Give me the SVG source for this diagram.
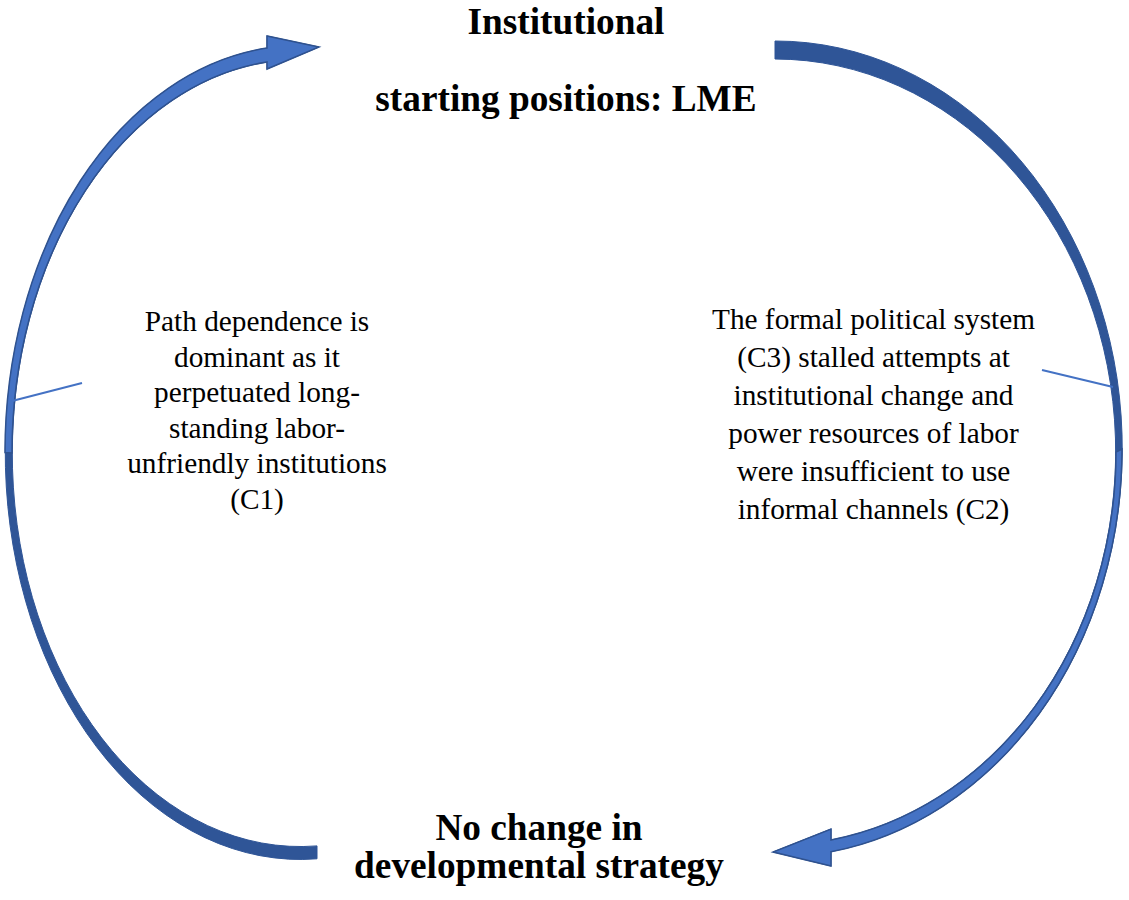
<svg xmlns="http://www.w3.org/2000/svg" width="1129" height="900" viewBox="0 0 1129 900">
<defs>
<style>
.back{fill:#2F5597;stroke:#2F5597;stroke-width:1}
.front{fill:#4472C4;stroke:#2F528F;stroke-width:1.5;stroke-linejoin:miter}
.title{font-family:"Liberation Serif","Times New Roman",serif;font-size:37.3px;font-weight:bold;fill:#000;text-anchor:middle}
.body{font-family:"Liberation Serif","Times New Roman",serif;font-size:29.3px;fill:#000;text-anchor:middle}
.link{stroke:#4472C4;stroke-width:2;fill:none}
</style>
</defs>
<rect width="1129" height="900" fill="#fff"/>
<g id="connectors">
<g id="left-arrow">
<path class="back" d="M 267,48.05 A 295 407 0 0 0 317,858.8 L 317,845.9 A 288 393.6 0 0 1 267,62 L 267,69 L 319,47 L 267,36 Z"/>
<path class="front" d="M 267,48.05 A 295 407 0 0 0 5,452.5 L 12,453 A 288 393.6 0 0 1 267,62 L 267,69 L 319,47 L 267,36 Z"/>
</g>
<g id="right-arrow">
<path class="back" d="M 775,41 A 347 408 0 0 1 831,851.7 L 831,866 L 773,852 L 831,829 L 831,840 A 341 393.2 0 0 0 775,59 Z"/>
<path class="front" d="M 1122,449 A 347 408 0 0 1 831,851.7 L 831,866 L 773,852 L 831,829 L 831,840 A 341 393.2 0 0 0 1116,452.2 Z"/>
</g>
<line class="link" x1="12" y1="401" x2="82" y2="383"/>
<line class="link" x1="1042" y1="370" x2="1113" y2="387"/>
</g>
<g id="node-top">
<text class="title" x="566" y="34">Institutional</text>
<text class="title" x="566" y="111">starting positions: LME</text>
</g>
<g id="node-bottom">
<text class="title" x="539" y="840">No change in</text>
<text class="title" x="539" y="878">developmental strategy</text>
</g>
<g id="node-left">
<text class="body" x="257" y="331">Path dependence is</text>
<text class="body" x="257" y="366.5">dominant as it</text>
<text class="body" x="257" y="402">perpetuated long-</text>
<text class="body" x="257" y="437.5">standing labor-</text>
<text class="body" x="257" y="473">unfriendly institutions</text>
<text class="body" x="257" y="508.5">(C1)</text>
</g>
<g id="node-right">
<text class="body" x="873.5" y="329">The formal political system</text>
<text class="body" x="873.5" y="367">(C3) stalled attempts at</text>
<text class="body" x="873.5" y="405">institutional change and</text>
<text class="body" x="873.5" y="443">power resources of labor</text>
<text class="body" x="873.5" y="481">were insufficient to use</text>
<text class="body" x="873.5" y="519">informal channels (C2)</text>
</g>
</svg>
